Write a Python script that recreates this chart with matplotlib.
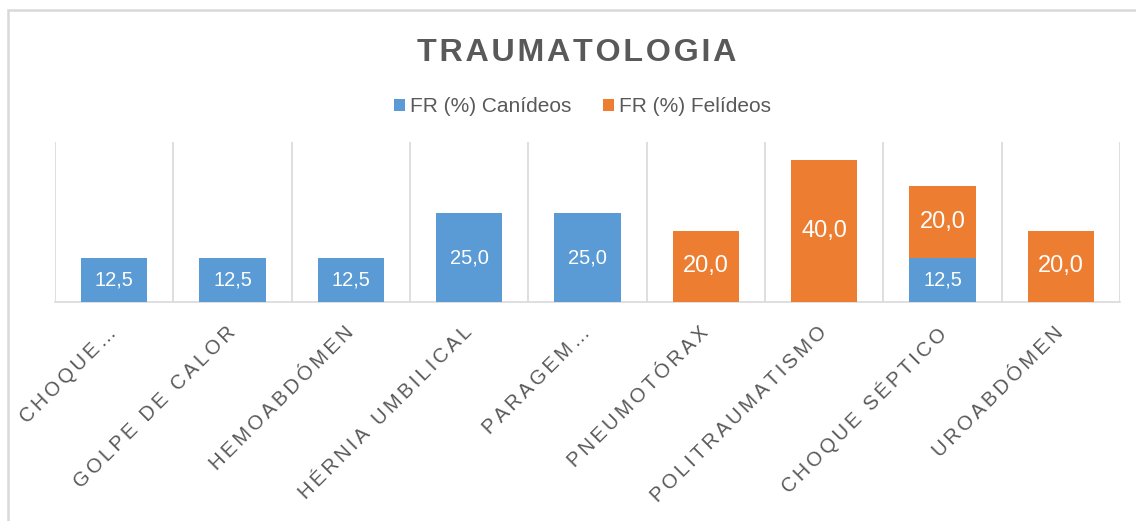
import matplotlib
matplotlib.use("Agg")
import matplotlib.pyplot as plt
from matplotlib.patches import Rectangle
from matplotlib.transforms import ScaledTranslation
import numpy as np

categorias = ["Choque…", "Golpe de calor", "Hemoabdómen", "Hérnia umbilical",
              "Paragem…", "Pneumotórax", "Politraumatismo", "Choque séptico",
              "Uroabdómen"]
caninos = [12.5, 12.5, 12.5, 25.0, 25.0, 0, 0, 12.5, 0]
felinos = [0, 0, 0, 0, 0, 20.0, 40.0, 20.0, 20.0]

AZUL = "#5B9BD5"
LARANJA = "#ED7D31"
CINZA = "#595959"
GRELHA = "#D9D9D9"
FONTE = "Liberation Sans"
HAIR = "\u200a"


def espacar(txt, sep=HAIR):
    # imita o espacamento de letras do Excel
    return sep.join(list(txt))


fig = plt.figure(figsize=(11.36, 5.21), dpi=100)
ax = fig.add_axes([0.0484, 0.4203, 0.9375, 0.3071])

x = np.arange(len(categorias))
b1 = ax.bar(x, caninos, width=0.56, color=AZUL, zorder=3)
b2 = ax.bar(x, felinos, width=0.56, bottom=caninos, color=LARANJA, zorder=3)

for barras, vals, tam in ((b1, caninos, 14.5), (b2, felinos, 17)):
    labs = [("%.1f" % v).replace(".", ",") if v > 0 else "" for v in vals]
    ax.bar_label(barras, labels=labs, label_type="center", color="white",
                 fontsize=tam, family=FONTE)

ax.set_xlim(-0.5, len(categorias) - 0.5)
ax.set_ylim(0, 45)
ax.set_yticks([])

ax.set_xticks(x)
ax.set_xticklabels([espacar(c.upper(), HAIR + HAIR) for c in categorias],
                   rotation=45, ha="right", va="top", rotation_mode="anchor",
                   fontsize=14.5, color=CINZA, family=FONTE)
ax.tick_params(axis="x", length=0, pad=15)
desvio = ScaledTranslation(-7 / 100, 0, fig.dpi_scale_trans)
for lab in ax.get_xticklabels():
    lab.set_transform(lab.get_transform() + desvio)

ax.set_xticks(np.arange(len(categorias) + 1) - 0.5, minor=True)
ax.tick_params(axis="x", which="minor", length=0)
ax.grid(axis="x", which="minor", color=GRELHA, lw=1.2, zorder=0)

for s in ("top", "left", "right"):
    ax.spines[s].set_visible(False)
ax.spines["bottom"].set_color(GRELHA)
ax.spines["bottom"].set_linewidth(1.2)

fig.text(0.508, 0.883, espacar("TRAUMATOLOGIA"), ha="center",
         va="baseline", fontsize=23.2, fontweight="bold", color=CINZA, family=FONTE)

fig.legend(handles=[b1, b2], labels=["FR (%) Canídeos", "FR (%) Felídeos"],
           loc="center", bbox_to_anchor=(0.513, 0.795), ncol=2, frameon=False,
           handlelength=0.52, handleheight=0.52, handletextpad=0.25,
           columnspacing=1.5, prop={"family": FONTE, "size": 15},
           labelcolor=CINZA)

fig.patches.append(Rectangle((0.007, -0.1), 1.1, 1.081, transform=fig.transFigure,
                             fill=False, edgecolor=GRELHA, lw=1.8))

fig.savefig("out.png", dpi=100)
